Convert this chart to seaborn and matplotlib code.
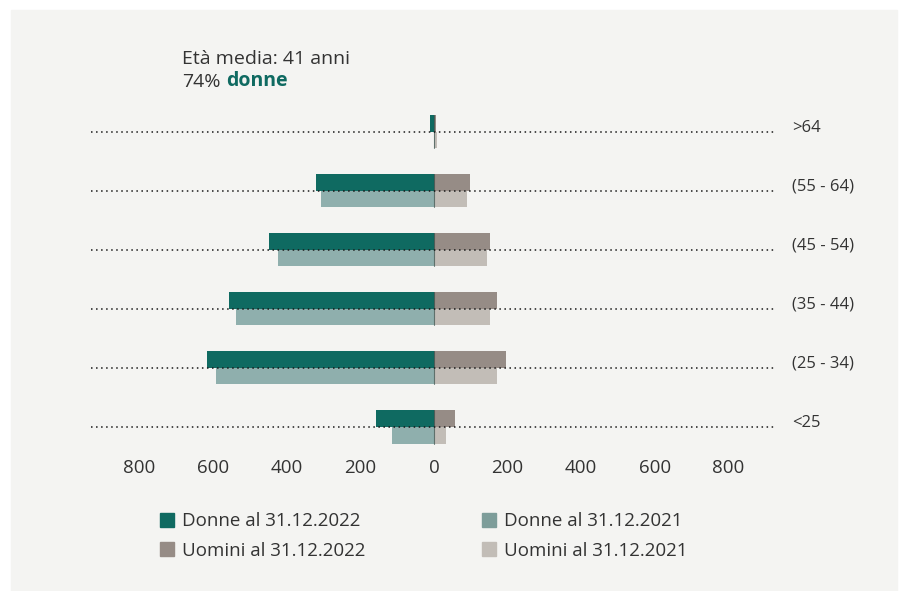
import matplotlib.pyplot as plt
import matplotlib.transforms as mtransforms
import pandas as pd
import seaborn as sns
from matplotlib.patches import Patch, Rectangle

# age classes, top to bottom
categories = ['>64', '(55 - 64)', '(45 - 54)', '(35 - 44)', '(25 - 34)', '<25']
donne_2022 = [11, 320, 448, 557, 617, 158]
donne_2021 = [1, 307, 424, 538, 592, 114]
uomini_2022 = [5, 98, 152, 171, 196, 57]
uomini_2021 = [8, 90, 144, 152, 171, 33]
x_ticks = [-800, -600, -400, -200, 0, 200, 400, 600, 800]

legend_labels = ['Donne al 31.12.2022', 'Uomini al 31.12.2022',
                 'Donne al 31.12.2021', 'Uomini al 31.12.2021']

sns.set_theme(style='white')
plt.rcParams['font.family'] = ['Open Sans', 'DejaVu Sans']

TEAL = '#0f6a61'
TEAL_L = '#8fafad'
GREY = '#968c86'
GREY_L = '#c2bdb7'
BG = '#f4f4f2'
TXT = '#333333'

rows = []
for i, cat in enumerate(categories):
    rows.append({'eta': cat, 'anno': '2022', 'sesso': 'D', 'valore': -donne_2022[i]})
    rows.append({'eta': cat, 'anno': '2021', 'sesso': 'D', 'valore': -donne_2021[i]})
    rows.append({'eta': cat, 'anno': '2022', 'sesso': 'U', 'valore': uomini_2022[i]})
    rows.append({'eta': cat, 'anno': '2021', 'sesso': 'U', 'valore': uomini_2021[i]})
df = pd.DataFrame(rows)

W, H = 907, 591
fig = plt.figure(figsize=(W / 100, H / 100), dpi=100, facecolor='white')
fig.patches.append(Rectangle((11 / W, 0), (897 - 11) / W, 1 - 10 / H,
                             transform=fig.transFigure, color=BG, zorder=-10))

ax = fig.add_axes([91 / W, 1 - 456.5 / H, (775 - 91) / W, (456.5 - 102) / H])
ax.set_facecolor('none')

for sesso, pal in [('D', [TEAL, TEAL_L]), ('U', [GREY, GREY_L])]:
    sns.barplot(data=df[df.sesso == sesso], x='valore', y='eta', hue='anno',
                order=categories, hue_order=['2022', '2021'], palette=pal,
                orient='h', width=0.56, dodge=True, saturation=1,
                errorbar=None, legend=False, ax=ax, zorder=2, linewidth=0)

# small dark seam at zero, as in the source
for p in ax.patches:
    if p.get_width() < 0:
        x1 = p.get_x()
        ax.plot([x1, x1], [p.get_y(), p.get_y() + p.get_height()],
                color='#1d3d39', lw=0.8, alpha=0.6, zorder=2.5)

lift = mtransforms.offset_copy(ax.get_yaxis_transform(), fig=fig, x=0, y=4, units='dots')
for i in range(len(categories)):
    ax.axhline(i, color='#1a1a1a', lw=1.1, ls=(0, (1, 2.3)), zorder=3)
    ax.text(1.025, i, categories[i], transform=lift,
            ha='left', va='center', fontsize=12, color=TXT)

ax.set_xlim(-932, 927)
ax.set_ylim(5.5, -0.5)
ax.set_xticks(x_ticks)
ax.set_xticklabels([str(abs(v)) for v in x_ticks], fontsize=13.5, color=TXT)
ax.set_yticks([])
ax.set_xlabel('')
ax.set_ylabel('')
ax.tick_params(axis='x', length=0, pad=1.5)
sns.despine(ax=ax, left=True, bottom=True)

# header
fig.text(182 / W, 1 - 59 / H, 'Età media: 41 anni', fontsize=14, color=TXT,
         ha='left', va='center')
t = fig.text(182 / W, 1 - 82 / H, '74%', fontsize=14, color=TXT,
             ha='left', va='center')
ax.annotate('donne', xy=(1, 0), xycoords=t, xytext=(4, 0),
            textcoords='offset points', fontsize=14, color=TEAL,
            fontweight='bold', ha='left', va='bottom', annotation_clip=False)

handles = [Patch(color=TEAL), Patch(color=GREY), Patch(color='#7d9d9a'), Patch(color=GREY_L)]
fig.legend(handles, legend_labels, loc='center left', ncol=2, frameon=False,
           bbox_to_anchor=(143 / W, 1 - 536 / H), fontsize=13.5,
           handlelength=0.75, handleheight=0.75, handletextpad=0.45,
           columnspacing=6.2, labelspacing=0.6, labelcolor=TXT)

fig.savefig('out.png', dpi=100, facecolor='white')
